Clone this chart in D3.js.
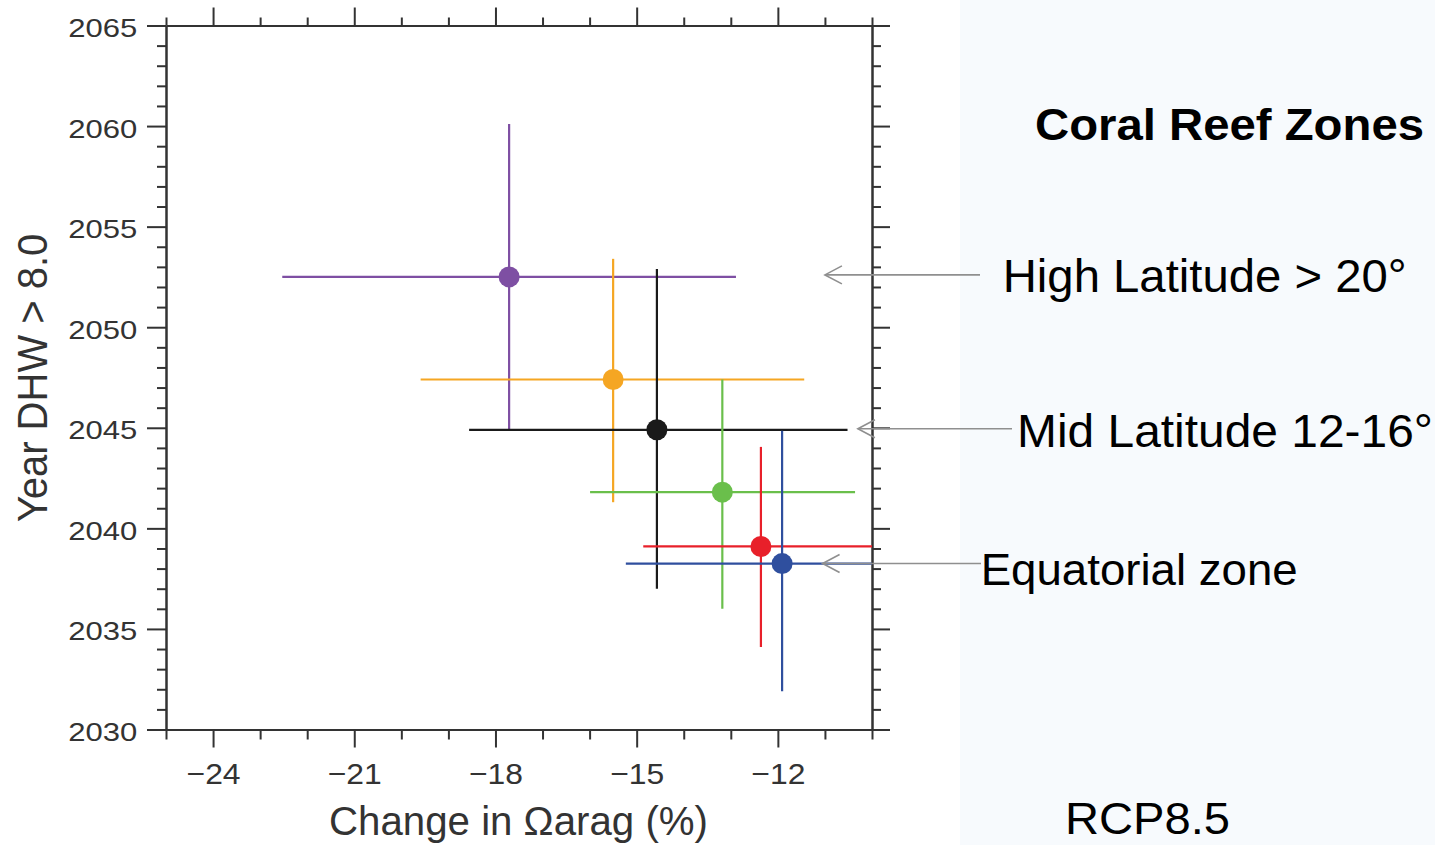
<!DOCTYPE html>
<html>
<head>
<meta charset="utf-8">
<script src="https://cdn.jsdelivr.net/npm/d3@7"></script>
<style>
  body { margin: 0; background: #fff; }
  svg { display: block; font-family: "Liberation Sans", Arial, sans-serif; }
  .axis path, .axis line { stroke: #333; stroke-width: 2; }
  .axis text { fill: #333; }
</style>
</head>
<body>
<svg id="chart" width="1435" height="845"></svg>
<script>
// zones, drawn in this order (colour per zone)
const zoneColors = ["#7e4fa3", "#f5a623", "#1a1a1a", "#6abf4b", "#e8202a", "#2f4f9e"];
// change in omega arag (%) : centre and range
const omegaMid = [-17.71, -15.50, -14.57, -13.18, -12.36, -11.91];
const omegaLo  = [-22.53, -19.59, -18.56, -15.99, -14.86, -15.23];
const omegaHi  = [-12.89, -11.44, -10.52, -10.36, -10.0, -10.0];
// year DHW > 8.0 : centre and range
const yearMid = [2052.5, 2047.4, 2044.9, 2041.8, 2039.1, 2038.25];
const yearLo  = [2044.9, 2041.3, 2037.0, 2036.0, 2034.1, 2031.9];
const yearHi  = [2060.1, 2053.4, 2052.9, 2047.4, 2044.05, 2044.85];

// ticks
const xMajorTicks = [-24, -21, -18, -15, -12];
const xMinorTicks = [-25, -23, -22, -20, -19, -17, -16, -14, -13, -11, -10];
const yMajorTicks = [2030, 2035, 2040, 2045, 2050, 2055, 2060, 2065];
const yMinorTicks = [2031, 2032, 2033, 2034, 2036, 2037, 2038, 2039, 2041, 2042, 2043, 2044,
  2046, 2047, 2048, 2049, 2051, 2052, 2053, 2054, 2056, 2057, 2058, 2059, 2061, 2062, 2063, 2064];

// side annotations
const zoneLabels = ["High Latitude > 20°", "Mid Latitude 12-16°", "Equatorial zone"];
const arrowTipOmega = [-11.0, -10.3, -11.05];
const arrowTipYear = [2052.6, 2044.95, 2038.25];

const svg = d3.select("#chart");
const box = { left: 166, right: 872, top: 25.5, bottom: 729.5 };

// light panel on the right
svg.append("rect")
  .attr("x", 960).attr("y", 0).attr("width", 475).attr("height", 845)
  .attr("fill", "#f7fafd");

const x = d3.scaleLinear().domain([-25, -10]).range([box.left, box.right]);
const y = d3.scaleLinear().domain([2030, 2065]).range([box.bottom, box.top]);

const fmtX = d => "\u2212" + Math.abs(d);

// axes: minor first, then major with labels
function addAxis(axisFn, pos, ticks, size, withLabels) {
  const g = svg.append("g").attr("class", "axis").attr("transform", pos);
  let ax = axisFn.tickValues(ticks).tickSize(size).tickSizeOuter(0);
  if (!withLabels) ax = ax.tickFormat("");
  g.call(ax);
  return g;
}
addAxis(d3.axisBottom(x), `translate(0,${box.bottom})`, xMinorTicks, 10, false);
const xAx = addAxis(d3.axisBottom(x).tickFormat(fmtX), `translate(0,${box.bottom})`, xMajorTicks, 18, true);
addAxis(d3.axisTop(x), `translate(0,${box.top})`, xMinorTicks, 8, false);
addAxis(d3.axisTop(x), `translate(0,${box.top})`, xMajorTicks, 18, false);
addAxis(d3.axisLeft(y), `translate(${box.left},0)`, yMinorTicks, 9, false);
const yAx = addAxis(d3.axisLeft(y).tickFormat(d3.format("d")), `translate(${box.left},0)`, yMajorTicks, 19, true);
addAxis(d3.axisRight(y), `translate(${box.right},0)`, yMinorTicks, 9, false);
addAxis(d3.axisRight(y), `translate(${box.right},0)`, yMajorTicks, 18, false);

xAx.selectAll(".tick text")
  .attr("y", 54.5).attr("dy", 0)
  .style("font-size", "30px")
  .attr("textLength", 54).attr("lengthAdjust", "spacingAndGlyphs");

yAx.selectAll(".tick text")
  .attr("x", -28.7).attr("dy", 0).attr("y", 11)
  .style("font-size", "26.5px")
  .attr("textLength", 69).attr("lengthAdjust", "spacingAndGlyphs");

// axis titles
svg.append("text")
  .attr("x", 329).attr("y", 835)
  .attr("fill", "#333")
  .style("font-size", "41px")
  .attr("textLength", 379).attr("lengthAdjust", "spacingAndGlyphs")
  .text("Change in \u03A9arag (%)");

svg.append("text")
  .attr("transform", "translate(47,378) rotate(-90) scale(1,1.08)")
  .attr("text-anchor", "middle")
  .attr("fill", "#333")
  .style("font-size", "40px")
  .text("Year DHW > 8.0");

// error bars and points
svg.append("clipPath").attr("id", "plotClip")
  .append("rect")
  .attr("x", box.left).attr("y", box.top)
  .attr("width", box.right - box.left).attr("height", box.bottom - box.top);

const marks = svg.append("g").attr("clip-path", "url(#plotClip)");
const zones = zoneColors.map((c, i) => ({
  color: c, xm: omegaMid[i], x0: omegaLo[i], x1: omegaHi[i],
  ym: yearMid[i], y0: yearLo[i], y1: yearHi[i]
}));

const zg = marks.selectAll("g.zone").data(zones).join("g").attr("class", "zone");
zg.append("line")
  .attr("x1", d => x(d.x0)).attr("x2", d => x(d.x1))
  .attr("y1", d => y(d.ym)).attr("y2", d => y(d.ym))
  .attr("stroke", d => d.color).attr("stroke-width", 2.2);
zg.append("line")
  .attr("x1", d => x(d.xm)).attr("x2", d => x(d.xm))
  .attr("y1", d => y(d.y0)).attr("y2", d => y(d.y1))
  .attr("stroke", d => d.color).attr("stroke-width", 2.2);
zg.append("circle")
  .attr("cx", d => x(d.xm)).attr("cy", d => y(d.ym))
  .attr("r", 10.5)
  .attr("fill", d => d.color);

// labels and arrows on the right
const labelX = [1002.7, 1017, 980.7];
const labelY = [292, 447, 585];
const labelLen = [404, 416, 317];
const labelSize = [47, 46, 45];
const tailX = [980, 1012, 981];

zoneLabels.forEach((t, i) => {
  const tx = x(arrowTipOmega[i]), ty = y(arrowTipYear[i]);
  svg.append("line")
    .attr("x1", tx).attr("x2", tailX[i])
    .attr("y1", ty).attr("y2", ty)
    .attr("stroke", "#8f8f8f").attr("stroke-width", 1.6);
  svg.append("path")
    .attr("d", `M${tx + 17},${ty - 9} L${tx},${ty} L${tx + 17},${ty + 9}`)
    .attr("fill", "none").attr("stroke", "#8f8f8f").attr("stroke-width", 1.6);
  svg.append("text")
    .attr("x", labelX[i]).attr("y", labelY[i])
    .attr("fill", "#000")
    .style("font-size", labelSize[i] + "px")
    .attr("textLength", labelLen[i]).attr("lengthAdjust", "spacingAndGlyphs")
    .text(t);
});

svg.append("text")
  .attr("x", 1035).attr("y", 140)
  .attr("fill", "#000")
  .style("font-size", "44px").style("font-weight", "bold")
  .attr("textLength", 389).attr("lengthAdjust", "spacingAndGlyphs")
  .text("Coral Reef Zones");

svg.append("text")
  .attr("x", 1065).attr("y", 834)
  .attr("fill", "#000")
  .style("font-size", "44px")
  .attr("textLength", 165).attr("lengthAdjust", "spacingAndGlyphs")
  .text("RCP8.5");
</script>
</body>
</html>
